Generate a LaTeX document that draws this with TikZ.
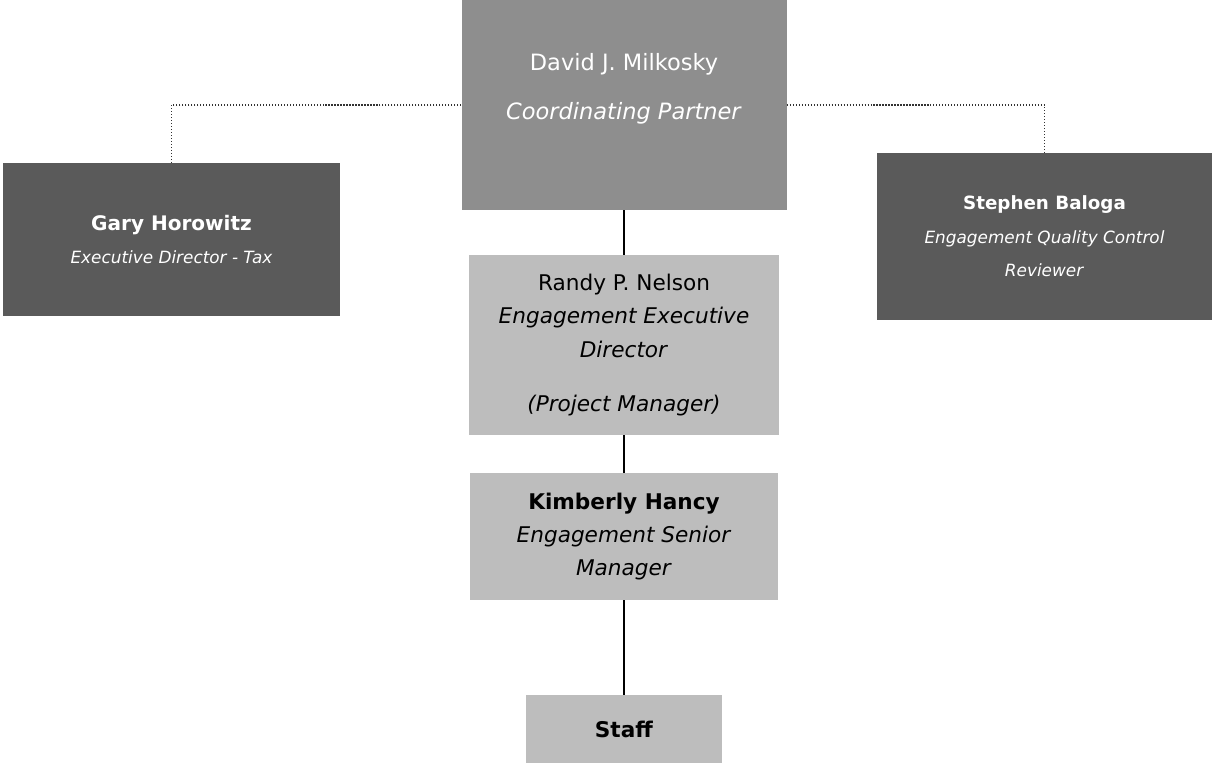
\documentclass[tikz,border=0pt]{standalone}
\usepackage{fontspec}
\setmainfont{DejaVu Sans}
\usepackage{tikz}
\usetikzlibrary{positioning,calc}

\definecolor{partnergray}{HTML}{8E8E8E}
\definecolor{darkgray}{HTML}{5A5A5A}
\definecolor{lightgray}{HTML}{BDBDBD}

\newcommand{\subtitle}[1]{{\fontsize{9.6}{19}\selectfont\textit{#1}}}

\begin{document}
\begin{tikzpicture}[
    every node/.style={font=\fontsize{12.3}{19}\selectfont},
    box/.style={
        rectangle,
        fill=lightgray,
        inner sep=0pt,
        align=center,
        text=black
    },
    darkbox/.style={
        box,
        fill=darkgray,
        text=white
    },
    topbox/.style={
        box,
        fill=partnergray,
        text=white
    },
    dotline/.style={densely dotted, line width=0.7pt, black!80},
    line/.style={line width=0.6pt, black}
]
\useasboundingbox (0,0) rectangle (24.28,-15.26);

% Nodes with fixed coordinates
\node[topbox, minimum width=6.5cm, minimum height=4.2cm] (milkosky) at (12.48,-2.1) {};
\node[text=white, align=center, font=\fontsize{12.8}{19}\selectfont] (milkoskytext) at (12.48,-1.78)
    {David J. Milkosky\\[9pt]\textit{Coordinating Partner}};

\node[darkbox, minimum width=6.74cm, minimum height=3.06cm, font=\fontsize{11.4}{19}\selectfont] (horowitz) at (3.43,-4.79)
    {\textbf{Gary Horowitz}\\\subtitle{Executive Director - Tax}};

\node[darkbox, minimum width=6.7cm, minimum height=3.34cm, font=\fontsize{10.4}{19}\selectfont] (baloga) at (20.89,-4.73)
    {\textbf{Stephen Baloga}\\\subtitle{Engagement Quality Control}\\\subtitle{Reviewer}};

\node[box, minimum width=6.2cm, minimum height=3.6cm] (nelson) at (12.48,-6.9)
    {Randy P. Nelson\\\textit{Engagement Executive}\\\textit{Director}\\[12pt]\textit{(Project Manager)}};

\node[box, minimum width=6.16cm, minimum height=2.54cm] (hancy) at (12.48,-10.73)
    {\textbf{Kimberly Hancy}\\\textit{Engagement Senior}\\\textit{Manager}};

\node[box, minimum width=3.92cm, minimum height=1.36cm] (staff) at (12.48,-14.58)
    {\textbf{Staff}};

% Connectors
\draw[dotline] (milkosky.west) -| (horowitz.north);
\draw[dotline] (milkosky.east) -| (baloga.north);

\draw[line] (milkosky.south) -- (nelson.north);
\draw[line] (nelson.south) -- (hancy.north);
\draw[line] (hancy.south) -- (staff.north);

\end{tikzpicture}
\end{document}
